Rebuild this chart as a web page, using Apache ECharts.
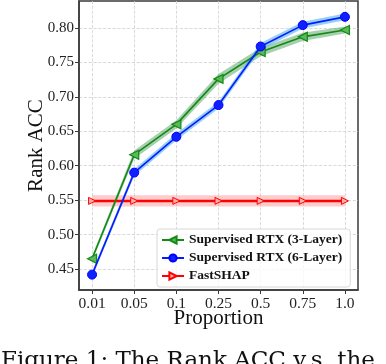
<!DOCTYPE html>
<html lang="en">
<head>
    <meta charset="UTF-8">
    <title>Rank ACC</title>
    <script src="https://cdn.jsdelivr.net/npm/echarts@6/dist/echarts.min.js"></script>
</head>
<body style="margin:0;background:#fff;">
    <div id="main" style="width: 386px;height:364px;"></div>
    <script type="text/javascript">
        // x categories and y ticks
        var proportions = ['0.01', '0.05', '0.1', '0.25', '0.5', '0.75', '1.0'];
        var yTicks = [0.45, 0.50, 0.55, 0.60, 0.65, 0.70, 0.75, 0.80];

        // series values
        var rtx3 = [0.465, 0.616, 0.660, 0.726, 0.765, 0.787, 0.797];
        var rtx6 = [0.442, 0.590, 0.642, 0.688, 0.773, 0.804, 0.816];
        var fastshap = [0.549, 0.549, 0.549, 0.549, 0.549, 0.549, 0.549];
        // half width of the shaded bands
        var rtx3Err = [0.004, 0.006, 0.006, 0.007, 0.006, 0.006, 0.005];
        var rtx6Err = [0.004, 0.005, 0.005, 0.005, 0.005, 0.005, 0.005];
        var fastshapErr = [0.008, 0.008, 0.008, 0.008, 0.008, 0.008, 0.008];

        var serif = '"Liberation Serif", "DejaVu Serif", serif';

        function pts(vals) {
            return vals.map(function (v, i) { return [i, v]; });
        }

        // shaded band drawn as one polygon through the axis scales
        function band(name, vals, errs, color) {
            return {
                name: name + ' band',
                type: 'custom',
                silent: true,
                z: 1,
                clip: true,
                data: vals.map(function (v, i) { return [i, v]; }),
                renderItem: function (params, api) {
                    if (params.dataIndex !== 0) return;
                    var up = [], down = [];
                    for (var i = 0; i < vals.length; i++) {
                        up.push(api.coord([i, vals[i] + errs[i]]));
                        down.unshift(api.coord([i, vals[i] - errs[i]]));
                    }
                    return {
                        type: 'polygon',
                        shape: { points: up.concat(down) },
                        style: { fill: color }
                    };
                }
            };
        }

        var myChart = echarts.init(document.getElementById('main'));

        var option = {
            animation: false,
            grid: {
                left: 79, right: 28, top: 1, bottom: 74,
                show: true, borderColor: '#3a3a3a', borderWidth: 1.5,
                containLabel: false
            },
            legend: {
                data: ['Supervised RTX (3-Layer)', 'Supervised RTX (6-Layer)', 'FastSHAP'],
                orient: 'vertical',
                left: 157, top: 229,
                padding: [4, 8, 4, 4],
                itemWidth: 22, itemHeight: 9, itemGap: 4,
                backgroundColor: 'rgba(255,255,255,0.8)',
                borderColor: '#d8d8d8', borderWidth: 1, borderRadius: 3,
                textStyle: { fontFamily: serif, fontWeight: 'bold', fontSize: 13.5, color: '#111', lineHeight: 13 }
            },
            xAxis: {
                type: 'value',
                min: -0.31, max: 6.31,
                name: 'Proportion',
                nameLocation: 'middle',
                nameGap: 18,
                nameMoveOverlap: false,
                nameTextStyle: { fontFamily: serif, fontSize: 21, color: '#111', verticalAlign: 'top' },
                axisLine: { show: true, onZero: false, lineStyle: { color: '#3a3a3a', width: 1.5 } },
                axisTick: { show: true, length: 4, customValues: [0, 1, 2, 3, 4, 5, 6], lineStyle: { color: '#3a3a3a' } },
                axisLabel: {
                    customValues: [0, 1, 2, 3, 4, 5, 6],
                    fontFamily: serif, fontSize: 15.5, color: '#222', margin: 6,
                    formatter: function (v) { return proportions[Math.round(v)]; }
                },
                splitLine: { show: true, lineStyle: { color: '#d0d0d0', type: 'dashed', width: 0.8 } }
            },
            yAxis: {
                type: 'value',
                min: 0.4197, max: 0.839,
                name: 'Rank ACC',
                nameLocation: 'middle',
                nameGap: 32,
                nameMoveOverlap: false,
                nameTextStyle: { fontFamily: serif, fontSize: 21, color: '#111' },
                axisLine: { show: true, onZero: false, lineStyle: { color: '#3a3a3a', width: 1.5 } },
                axisTick: { show: true, length: 4, customValues: yTicks, lineStyle: { color: '#3a3a3a' } },
                axisLabel: {
                    customValues: yTicks,
                    fontFamily: serif, fontSize: 15, color: '#222', margin: 5,
                    formatter: function (v) { return v.toFixed(2); }
                },
                splitLine: { show: true, lineStyle: { color: '#d0d0d0', type: 'dashed', width: 0.8 } }
            },
            graphic: [{
                type: 'text',
                left: 1, top: 350,
                style: {
                    text: 'Figure 1: The Rank ACC v.s. the',
                    font: '23px "DejaVu Serif", serif',
                    fill: '#111'
                }
            }],
            series: [
                band('fastshap', fastshap, fastshapErr, 'rgba(255,110,110,0.35)'),
                band('rtx3', rtx3, rtx3Err, 'rgba(60,150,80,0.45)'),
                band('rtx6', rtx6, rtx6Err, 'rgba(60,170,240,0.55)'),
                {
                    name: 'FastSHAP',
                    type: 'line',
                    z: 3,
                    data: pts(fastshap),
                    color: '#ff0000',
                    lineStyle: { width: 2.5, color: '#ff0000' },
                    symbol: 'triangle', symbolSize: 7, symbolRotate: -90,
                    itemStyle: { color: '#ffb0b0', borderColor: '#ff0000', borderWidth: 1 }
                },
                {
                    name: 'Supervised RTX (3-Layer)',
                    type: 'line',
                    z: 4,
                    data: pts(rtx3),
                    color: '#138a13',
                    lineStyle: { width: 1.6, color: '#138a13' },
                    symbol: 'triangle', symbolSize: 9, symbolRotate: 90,
                    itemStyle: { color: '#5cb85c', borderColor: '#138a13', borderWidth: 1.2 }
                },
                {
                    name: 'Supervised RTX (6-Layer)',
                    type: 'line',
                    z: 5,
                    data: pts(rtx6),
                    color: '#0000ff',
                    lineStyle: { width: 1.6, color: '#0a1aff' },
                    symbol: 'circle', symbolSize: 9,
                    itemStyle: { color: '#1020ff', borderColor: '#0000ff', borderWidth: 1 }
                }
            ]
        };

        myChart.setOption(option);
    </script>
</body>
</html>
